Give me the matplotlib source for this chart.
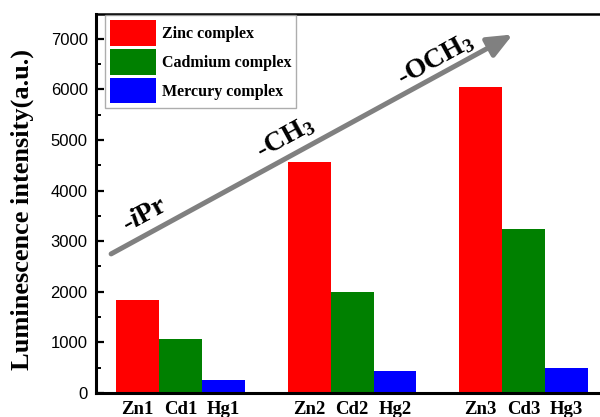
import numpy as np
import matplotlib
matplotlib.use('Agg')
import matplotlib.pyplot as plt
from matplotlib.ticker import MultipleLocator

plt.rcParams['mathtext.fontset'] = 'custom'
plt.rcParams['mathtext.rm'] = 'Liberation Serif:bold'
plt.rcParams['mathtext.it'] = 'Liberation Serif:bold:italic'
plt.rcParams['mathtext.bf'] = 'Liberation Serif:bold'

groups = ['1', '2', '3']
metals = ['Zn', 'Cd', 'Hg']
series_names = ['Zinc complex', 'Cadmium complex', 'Mercury complex']
zinc = [1840, 4560, 6050]
cadmium = [1065, 2000, 3245]
mercury = [255, 430, 495]
colors = ['#ff0000', '#008000', '#0000ff']
substituents = ['-$\\it{i}$Pr', '-CH$_\\mathrm{3}$', '-OCH$_\\mathrm{3}$']

SERIF = 'Liberation Serif'

fig = plt.figure(figsize=(6, 4.17), dpi=100)
ax = fig.add_axes([96 / 600, 24 / 417, 504 / 600, 379 / 417])

group_pos = np.arange(len(groups)) * 4
all_pos, all_labels = [], []
for i, (vals, name, c) in enumerate(zip([zinc, cadmium, mercury], series_names, colors)):
    x = group_pos + i
    ax.bar(x, vals, width=1.0, color=c, label=name, linewidth=0)
    all_pos.extend(x)
    all_labels.extend([metals[i] + g for g in groups])

ax.set_xlim(-0.97, 10.78)
ax.set_ylim(0, 7490)
ax.set_xticks(all_pos)
ax.set_xticklabels(all_labels, fontfamily=SERIF, fontweight='bold', fontsize=13.5)
ax.tick_params(axis='x', length=0, pad=6)

ax.yaxis.set_major_locator(MultipleLocator(1000))
ax.yaxis.set_minor_locator(MultipleLocator(500))
ax.tick_params(axis='y', which='major', direction='in', length=6, width=1.6,
               labelsize=12, pad=6)
ax.tick_params(axis='y', which='minor', direction='in', length=3.5, width=1.4)
for lab in ax.get_yticklabels():
    lab.set_fontfamily('Liberation Sans')

ax.set_ylabel('Luminescence intensity(a.u.)', fontfamily=SERIF, fontweight='bold',
              fontsize=19)
ax.yaxis.set_label_coords(-0.123, 0.485)

ax.spines['left'].set_linewidth(2.2)
ax.spines['bottom'].set_linewidth(2.2)
ax.spines['top'].set_linewidth(1.8)
ax.spines['right'].set_visible(False)

# trend arrow
ax.annotate('', xy=(0.827, 0.946), xytext=(0.030, 0.367), xycoords='axes fraction',
            arrowprops=dict(arrowstyle='-|>,head_length=0.75,head_width=0.32',
                            mutation_scale=20, lw=3.6, color='#808080',
                            shrinkA=0, shrinkB=0))
text_pos = [(0.097, 0.470), (0.375, 0.673), (0.673, 0.879)]
for s, (tx, ty) in zip(substituents, text_pos):
    ax.text(tx, ty, s, transform=ax.transAxes, rotation=28.7, rotation_mode='anchor',
            ha='center', va='center', fontfamily=SERIF, fontweight='bold', fontsize=20)

leg = ax.legend(loc='upper left', bbox_to_anchor=(0.018, 0.997), borderaxespad=0,
                prop={'family': SERIF, 'weight': 'bold', 'size': 11.5},
                handlelength=2.9, handleheight=2.1, labelspacing=0.2,
                handletextpad=0.35, borderpad=0.3, fancybox=False)
leg.get_frame().set_edgecolor('#999999')
leg.get_frame().set_linewidth(1.0)

fig.savefig('out.png', dpi=100)
